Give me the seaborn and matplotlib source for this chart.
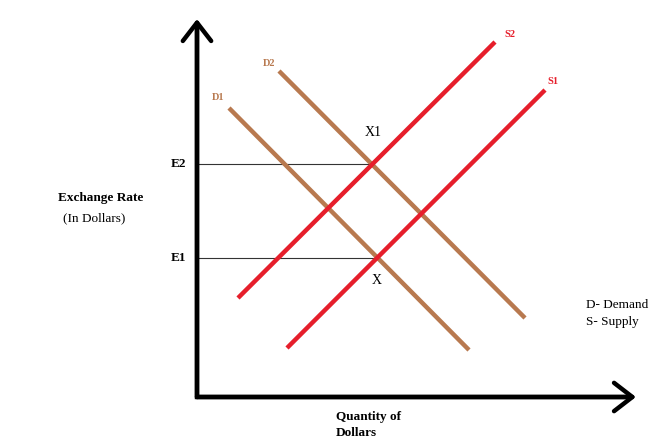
import matplotlib
matplotlib.use("Agg")
import matplotlib.pyplot as plt
import seaborn as sns
import pandas as pd

sns.set_theme(style="white")
plt.rcParams['font.family'] = ['Liberation Serif', 'DejaVu Serif']
plt.rcParams['text.color'] = 'black'

# Curve endpoints (quantity, exchange rate) in chart units
curve_names = ["D1", "D2", "S1", "S2"]
curve_x0 = [32, 82, 90, 41]
curve_y0 = [289, 326, 49, 99]
curve_x1 = [272, 328, 348, 298]
curve_y1 = [47, 79, 307, 355]
curve_colors = ["#B8794F", "#B8794F", "#E61E2B", "#E61E2B"]

# Equilibrium levels
eq_labels = ["E1", "E2"]
eq_y = [139, 233]
eq_x = [180, 176]
point_labels = ["X", "X1"]

rows = []
for n, a, b, c, d in zip(curve_names, curve_x0, curve_y0, curve_x1, curve_y1):
    rows.append({"curve": n, "q": a, "rate": b})
    rows.append({"curve": n, "q": c, "rate": d})
df = pd.DataFrame(rows)

fig = plt.figure(figsize=(6.65, 4.43), dpi=100)
ax = fig.add_axes([0, 0, 1, 1])
ax.set_xlim(-197, 468)
ax.set_ylim(-46, 397)
ax.axis("off")

# equilibrium guide lines
for y, x in zip(eq_y, eq_x):
    ax.plot([0, x], [y, y], color="#333333", lw=0.8, zorder=1)

sns.lineplot(data=df, x="q", y="rate", hue="curve", hue_order=curve_names,
             palette=dict(zip(curve_names, curve_colors)), lw=3.2,
             legend=False, ax=ax, sort=False, estimator=None, units="curve",
             zorder=2)
for l in ax.lines[2:]:
    l.set_solid_capstyle("butt")

# axes with arrowheads
astyle = "->,head_length=1.1,head_width=0.85"
ax.plot([0, 0, 430], [370, 0, 0], color="black", lw=3.2,
        solid_joinstyle="miter", zorder=3)
ax.annotate("", xy=(0, 378), xytext=(0, 0),
            arrowprops=dict(arrowstyle=astyle, lw=3.2, color="black",
                            shrinkA=0, shrinkB=0))
ax.annotate("", xy=(439, 0), xytext=(0, 0),
            arrowprops=dict(arrowstyle=astyle, lw=3.2, color="black",
                            shrinkA=0, shrinkB=0))

# curve labels
lab_pos = {"D1": (21, 300), "D2": (72, 334), "S1": (356, 316), "S2": (313, 363)}
for n, c in zip(curve_names, curve_colors):
    x, y = lab_pos[n]
    ax.text(x, y, n, color=c, fontsize=7.5, fontweight="bold", ha="center", va="center")

# equilibrium labels
for lab, y in zip(eq_labels, eq_y):
    ax.text(-19, y, lab, fontsize=9.5, fontweight="bold", ha="center", va="center")
ax.text(176, 265, point_labels[1], fontsize=10, ha="center", va="center")
ax.text(180, 116, point_labels[0], fontsize=10, ha="center", va="center")

ax.text(-96, 199, "Exchange Rate", fontsize=9.5, fontweight="bold", ha="center", va="center")
ax.text(-103, 179, "(In Dollars)", fontsize=9.5, ha="center", va="center")
ax.text(171, -20, "Quantity of", fontsize=9.5, fontweight="bold", ha="center", va="center")
ax.text(139, -36, "Dollars", fontsize=9.5, fontweight="bold", ha="left", va="center")
ax.text(389, 92, "D- Demand", fontsize=9.5, ha="left", va="center")
ax.text(389, 75, "S- Supply", fontsize=9.5, ha="left", va="center")

fig.savefig("out.png", dpi=100)
